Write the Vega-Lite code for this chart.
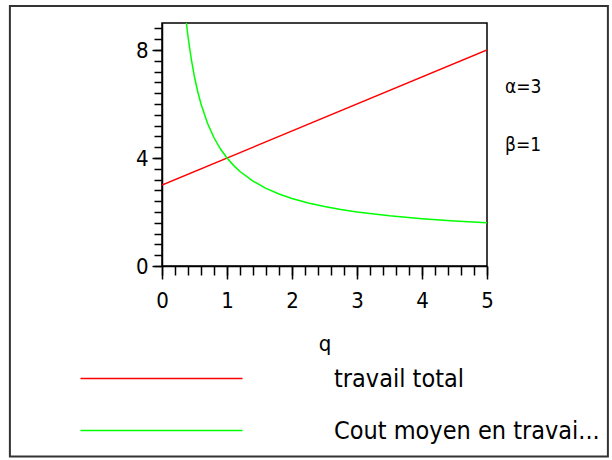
{
  "$schema": "https://vega.github.io/schema/vega-lite/v6.json",
  "width": 325,
  "height": 243,
  "autosize": "none",
  "padding": {"left": 162, "top": 23, "right": 125, "bottom": 194},
  "background": "white",
  "config": {
    "view": {"stroke": "black", "strokeWidth": 1.5},
    "axis": {
      "grid": false,
      "domainColor": "black",
      "domainWidth": 1.5,
      "tickColor": "black",
      "tickWidth": 1.5,
      "labelColor": "black",
      "titleColor": "black",
      "labelFont": "DejaVu Sans Condensed, Liberation Sans",
      "titleFont": "DejaVu Sans Condensed, Liberation Sans",
      "labelFontSize": 22,
      "titleFontSize": 22,
      "titleFontWeight": "normal",
      "labelFlush": false
    }
  },
  "resolve": {"axis": {"x": "independent", "y": "independent"}},
  "datasets": {
    "curves": [
      {"series": "travail total", "q": 0, "v": 3},
      {"series": "travail total", "q": 5, "v": 8},
      {"series": "Cout moyen en travai...", "q": 0.375, "v": 9},
      {"series": "Cout moyen en travai...", "q": 0.4, "v": 8.5},
      {"series": "Cout moyen en travai...", "q": 0.45, "v": 7.667},
      {"series": "Cout moyen en travai...", "q": 0.5, "v": 7},
      {"series": "Cout moyen en travai...", "q": 0.55, "v": 6.455},
      {"series": "Cout moyen en travai...", "q": 0.6, "v": 6},
      {"series": "Cout moyen en travai...", "q": 0.7, "v": 5.286},
      {"series": "Cout moyen en travai...", "q": 0.8, "v": 4.75},
      {"series": "Cout moyen en travai...", "q": 0.9, "v": 4.333},
      {"series": "Cout moyen en travai...", "q": 1, "v": 4},
      {"series": "Cout moyen en travai...", "q": 1.1, "v": 3.727},
      {"series": "Cout moyen en travai...", "q": 1.2, "v": 3.5},
      {"series": "Cout moyen en travai...", "q": 1.4, "v": 3.143},
      {"series": "Cout moyen en travai...", "q": 1.6, "v": 2.875},
      {"series": "Cout moyen en travai...", "q": 1.8, "v": 2.667},
      {"series": "Cout moyen en travai...", "q": 2, "v": 2.5},
      {"series": "Cout moyen en travai...", "q": 2.25, "v": 2.333},
      {"series": "Cout moyen en travai...", "q": 2.5, "v": 2.2},
      {"series": "Cout moyen en travai...", "q": 2.75, "v": 2.091},
      {"series": "Cout moyen en travai...", "q": 3, "v": 2},
      {"series": "Cout moyen en travai...", "q": 3.5, "v": 1.857},
      {"series": "Cout moyen en travai...", "q": 4, "v": 1.75},
      {"series": "Cout moyen en travai...", "q": 4.5, "v": 1.667},
      {"series": "Cout moyen en travai...", "q": 5, "v": 1.6}
    ]
  },
  "layer": [
    {
      "data": {"values": [{}]},
      "mark": {"type": "rect", "fillOpacity": 0, "stroke": "#333333", "strokeWidth": 2, "clip": false},
      "encoding": {
        "x": {"datum": -2.34, "type": "quantitative", "scale": {"domain": [0, 5], "nice": false, "zero": false},
              "axis": {"orient": "bottom", "values": [0,0.2,0.4,0.6,0.8,1,1.2,1.4,1.6,1.8,2,2.2,2.4,2.6,2.8,3,3.2,3.4,3.6,3.8,4,4.2,4.4,4.6,4.8,5], "labels": false, "title": null, "tickSize": 9, "domain": false}},
        "x2": {"datum": 6.86},
        "y": {"datum": 9.63, "type": "quantitative", "scale": {"domain": [0, 9], "nice": false, "zero": false},
              "axis": {"orient": "left", "values": [0,0.4,0.8,1.2,1.6,2,2.4,2.8,3.2,3.6,4,4.4,4.8,5.2,5.6,6,6.4,6.8,7.2,7.6,8,8.4,8.8], "labels": false, "title": null, "tickSize": 8, "domain": false}},
        "y2": {"datum": -7.06}
      }
    },
    {
      "data": {"name": "curves"},
      "mark": {"type": "line", "strokeWidth": 1.5, "clip": true},
      "encoding": {
        "x": {"field": "q", "type": "quantitative",
              "axis": {"orient": "bottom", "values": [0, 1, 2, 3, 4, 5], "tickSize": 13, "labelPadding": 11, "title": "q", "titlePadding": 22, "format": "d"}},
        "y": {"field": "v", "type": "quantitative",
              "axis": {"orient": "left", "values": [0, 4, 8], "tickSize": 10, "labelPadding": 4, "title": null, "format": "d"}},
        "color": {"field": "series", "type": "nominal",
                  "scale": {"domain": ["travail total", "Cout moyen en travai..."], "range": ["#ff0000", "#00ff00"]},
                  "legend": {"orient": "none", "legendX": -13, "legendY": 343, "title": null, "symbolType": "M-40.5,0H40.5", "symbolSize": 16, "symbolStrokeWidth": 1.5, "labelFont": "DejaVu Sans Condensed, Liberation Sans", "labelFontSize": 25, "labelColor": "black", "labelOffset": 160, "rowPadding": 26, "labelLimit": 400}},
        "order": {"field": "q", "type": "quantitative"}
      }
    },
    {
      "data": {"values": [{"label": "α=3"}]},
      "mark": {"type": "text", "align": "left", "baseline": "middle", "font": "DejaVu Sans Condensed, Liberation Sans", "fontSize": 19, "color": "black", "clip": false},
      "encoding": {
        "x": {"datum": 5.277, "type": "quantitative", "axis": null},
        "y": {"datum": 6.617, "type": "quantitative", "axis": null},
        "text": {"field": "label"}
      }
    },
    {
      "data": {"values": [{"label": "β=1"}]},
      "mark": {"type": "text", "align": "left", "baseline": "middle", "font": "DejaVu Sans Condensed, Liberation Sans", "fontSize": 19, "color": "black", "clip": false},
      "encoding": {
        "x": {"datum": 5.277, "type": "quantitative", "axis": null},
        "y": {"datum": 4.498, "type": "quantitative", "axis": null},
        "text": {"field": "label"}
      }
    }
  ]
}
